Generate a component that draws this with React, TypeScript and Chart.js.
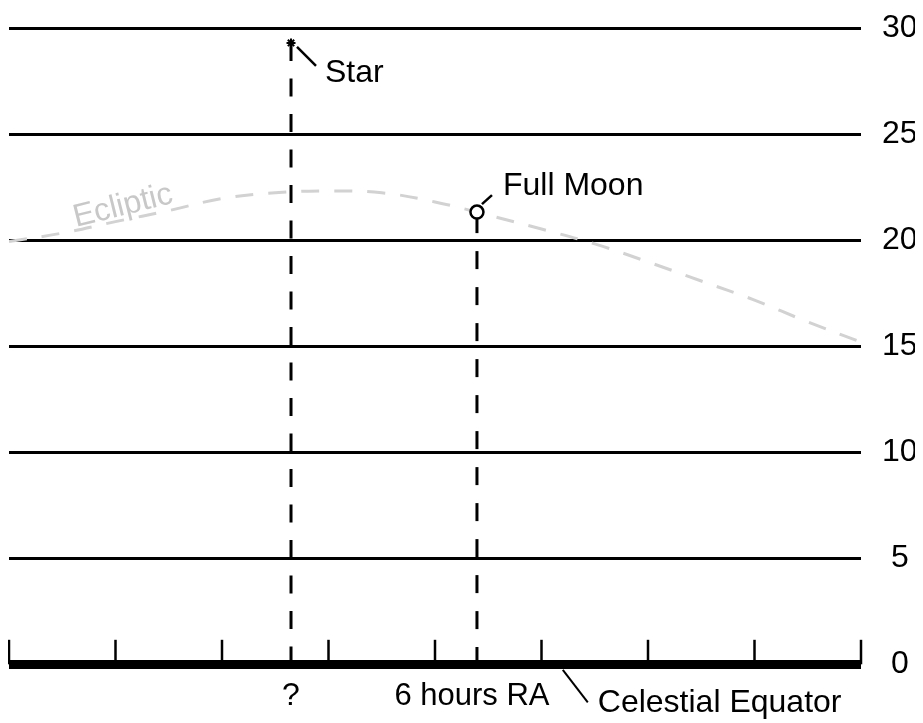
import React, { useEffect, useRef } from "react";
import { Chart, registerables } from "chart.js";

Chart.register(...registerables);

// ---- data ----
const DEC_TICKS = [0, 5, 10, 15, 20, 25, 30];
const RA_TICKS = [0, 1, 2, 3, 4, 5, 6, 7, 8];
const ECLIPTIC_RA = [0, 0.5, 1, 1.5, 2, 2.5, 3, 3.5, 4, 4.5, 5, 5.5, 6, 6.5, 7, 7.5, 8];
const ECLIPTIC_DEC = [19.94, 20.34, 20.88, 21.4, 21.97, 22.24, 22.33, 22.24, 21.81, 21.19, 20.53, 19.83, 18.98, 18.08, 17.18, 16.15, 15.2];
const STAR_RA = 2.648;
const STAR_DEC = 29.31;
const MOON_RA = 4.394;
const MOON_DEC = 21.33;
const TEXT_STAR = "Star";
const TEXT_MOON = "Full Moon";
const TEXT_UNKNOWN = "?";
const TEXT_MOON_RA = "6 hours RA";
const TEXT_EQUATOR = "Celestial Equator";
const TEXT_ECLIPTIC = "Ecliptic";

const FAMILY = '"Liberation Sans", Arial, Helvetica, sans-serif';
const font = (s: number) => `${s}px ${FAMILY}`;

const zeroPad = (s: any) => {
  s.paddingTop = 0;
  s.paddingBottom = 0;
  s.paddingLeft = 0;
  s.paddingRight = 0;
};

const annotatePlugin = {
  id: "annotate",
  afterDatasetsDraw(chart: any) {
    const { ctx, scales } = chart;
    const x = scales.x;
    const y = scales.y;
    const y0 = y.getPixelForValue(0);
    const line = (x1: number, y1: number, x2: number, y2: number, w: number) => {
      ctx.beginPath();
      ctx.lineWidth = w;
      ctx.moveTo(x1, y1);
      ctx.lineTo(x2, y2);
      ctx.stroke();
    };
    ctx.save();
    ctx.strokeStyle = "#000";
    ctx.fillStyle = "#000";
    ctx.lineCap = "butt";
    ctx.setLineDash([]);

    // RA tick marks on the celestial equator
    RA_TICKS.forEach((t) => {
      const px = x.getPixelForValue(t);
      line(px, y0, px, y0 - 24.5, 2.5);
    });

    const sx = x.getPixelForValue(STAR_RA);
    const sy = y.getPixelForValue(STAR_DEC);
    const mx = x.getPixelForValue(MOON_RA);
    const my = y.getPixelForValue(MOON_DEC);

    // pointers
    line(sx + 6, sy + 4, sx + 25, sy + 23, 2.5);
    line(mx + 5, my - 8, mx + 15, my - 17, 2.5);
    const ex = x.getPixelForValue(5.2);
    line(ex, y0 + 5.5, ex + 25, y0 + 38, 2);

    // texts
    ctx.font = font(32);
    ctx.textBaseline = "alphabetic";
    ctx.textAlign = "left";
    ctx.fillText(TEXT_STAR, sx + 34, sy + 39);
    ctx.fillText(TEXT_MOON, mx + 26, my - 17);
    ctx.fillText(TEXT_EQUATOR, ex + 35, y0 + 47.5);
    ctx.textAlign = "center";
    ctx.fillText(TEXT_UNKNOWN, sx, y0 + 41);
    ctx.font = font(31);
    ctx.fillText(TEXT_MOON_RA, mx - 5, y0 + 41);

    // ecliptic label
    const lx = x.getPixelForValue(1.09);
    const ly = y.getPixelForValue(21.2);
    ctx.translate(lx, ly);
    ctx.rotate((-14 * Math.PI) / 180);
    ctx.fillStyle = "#c8c8c8";
    ctx.font = font(32);
    ctx.textAlign = "center";
    ctx.fillText(TEXT_ECLIPTIC, 0, 0);
    ctx.restore();
  },
};

export default function App() {
  const ref = useRef<HTMLCanvasElement | null>(null);

  useEffect(() => {
    if (!ref.current) return;
    const pts = (xs: number[], ys: number[]) => xs.map((v, i) => ({ x: v, y: ys[i] }));
    const chart = new Chart(ref.current, {
      type: "line",
      data: {
        datasets: [
          {
            label: "Star",
            data: [{ x: STAR_RA, y: STAR_DEC }],
            showLine: false,
            pointStyle: "star",
            pointRadius: 4.5,
            pointBorderWidth: 2,
            borderColor: "#000",
            backgroundColor: "#000",
            order: 0,
          },
          {
            label: "Full Moon",
            data: [{ x: MOON_RA, y: MOON_DEC }],
            showLine: false,
            pointStyle: "circle",
            pointRadius: 6.5,
            pointBorderWidth: 2.5,
            borderColor: "#000",
            backgroundColor: "#fff",
            order: 1,
          },
          {
            label: "Star RA",
            data: [
              { x: STAR_RA, y: STAR_DEC },
              { x: STAR_RA, y: 0 },
            ],
            borderColor: "#000",
            borderWidth: 3,
            borderDash: [18, 17.5],
            pointRadius: 0,
            order: 2,
          },
          {
            label: "Moon RA",
            data: [
              { x: MOON_RA, y: MOON_DEC },
              { x: MOON_RA, y: 0 },
            ],
            borderColor: "#000",
            borderWidth: 3,
            borderDash: [18, 18],
            borderDashOffset: -3,
            pointRadius: 0,
            order: 3,
          },
          {
            label: "Ecliptic",
            data: pts(ECLIPTIC_RA, ECLIPTIC_DEC),
            borderColor: "#d2d2d2",
            borderWidth: 3,
            borderDash: [18, 15],
            tension: 0.4,
            pointRadius: 0,
            order: 4,
          },
        ],
      },
      options: {
        animation: false,
        responsive: true,
        maintainAspectRatio: false,
        events: [],
        layout: { autoPadding: false, padding: { left: 1, top: 20.3, bottom: 58.7, right: 0 } },
        plugins: { legend: { display: false }, tooltip: { enabled: false } },
        scales: {
          x: { type: "linear", min: 0, max: 8, display: false, afterFit: zeroPad },
          y: {
            type: "linear",
            position: "right",
            min: 0,
            max: 30,
            afterBuildTicks: (s: any) => {
              s.ticks = DEC_TICKS.map((v) => ({ value: v }));
            },
            afterFit: (s: any) => {
              s.width = 62;
              zeroPad(s);
            },
            ticks: {
              color: "#000",
              font: { family: FAMILY, size: 32 },
              padding: 21,
              crossAlign: "center",
            },
            grid: {
              color: "#000",
              lineWidth: (c: any) => (c.tick && c.tick.value === 0 ? 9 : 3),
              drawTicks: false,
            },
            border: { display: false },
          },
        },
      },
      plugins: [annotatePlugin],
    } as any);
    return () => chart.destroy();
  }, []);

  return (
    <div style={{ position: "relative", width: 915, height: 715 }}>
      <canvas ref={ref} />
    </div>
  );
}
